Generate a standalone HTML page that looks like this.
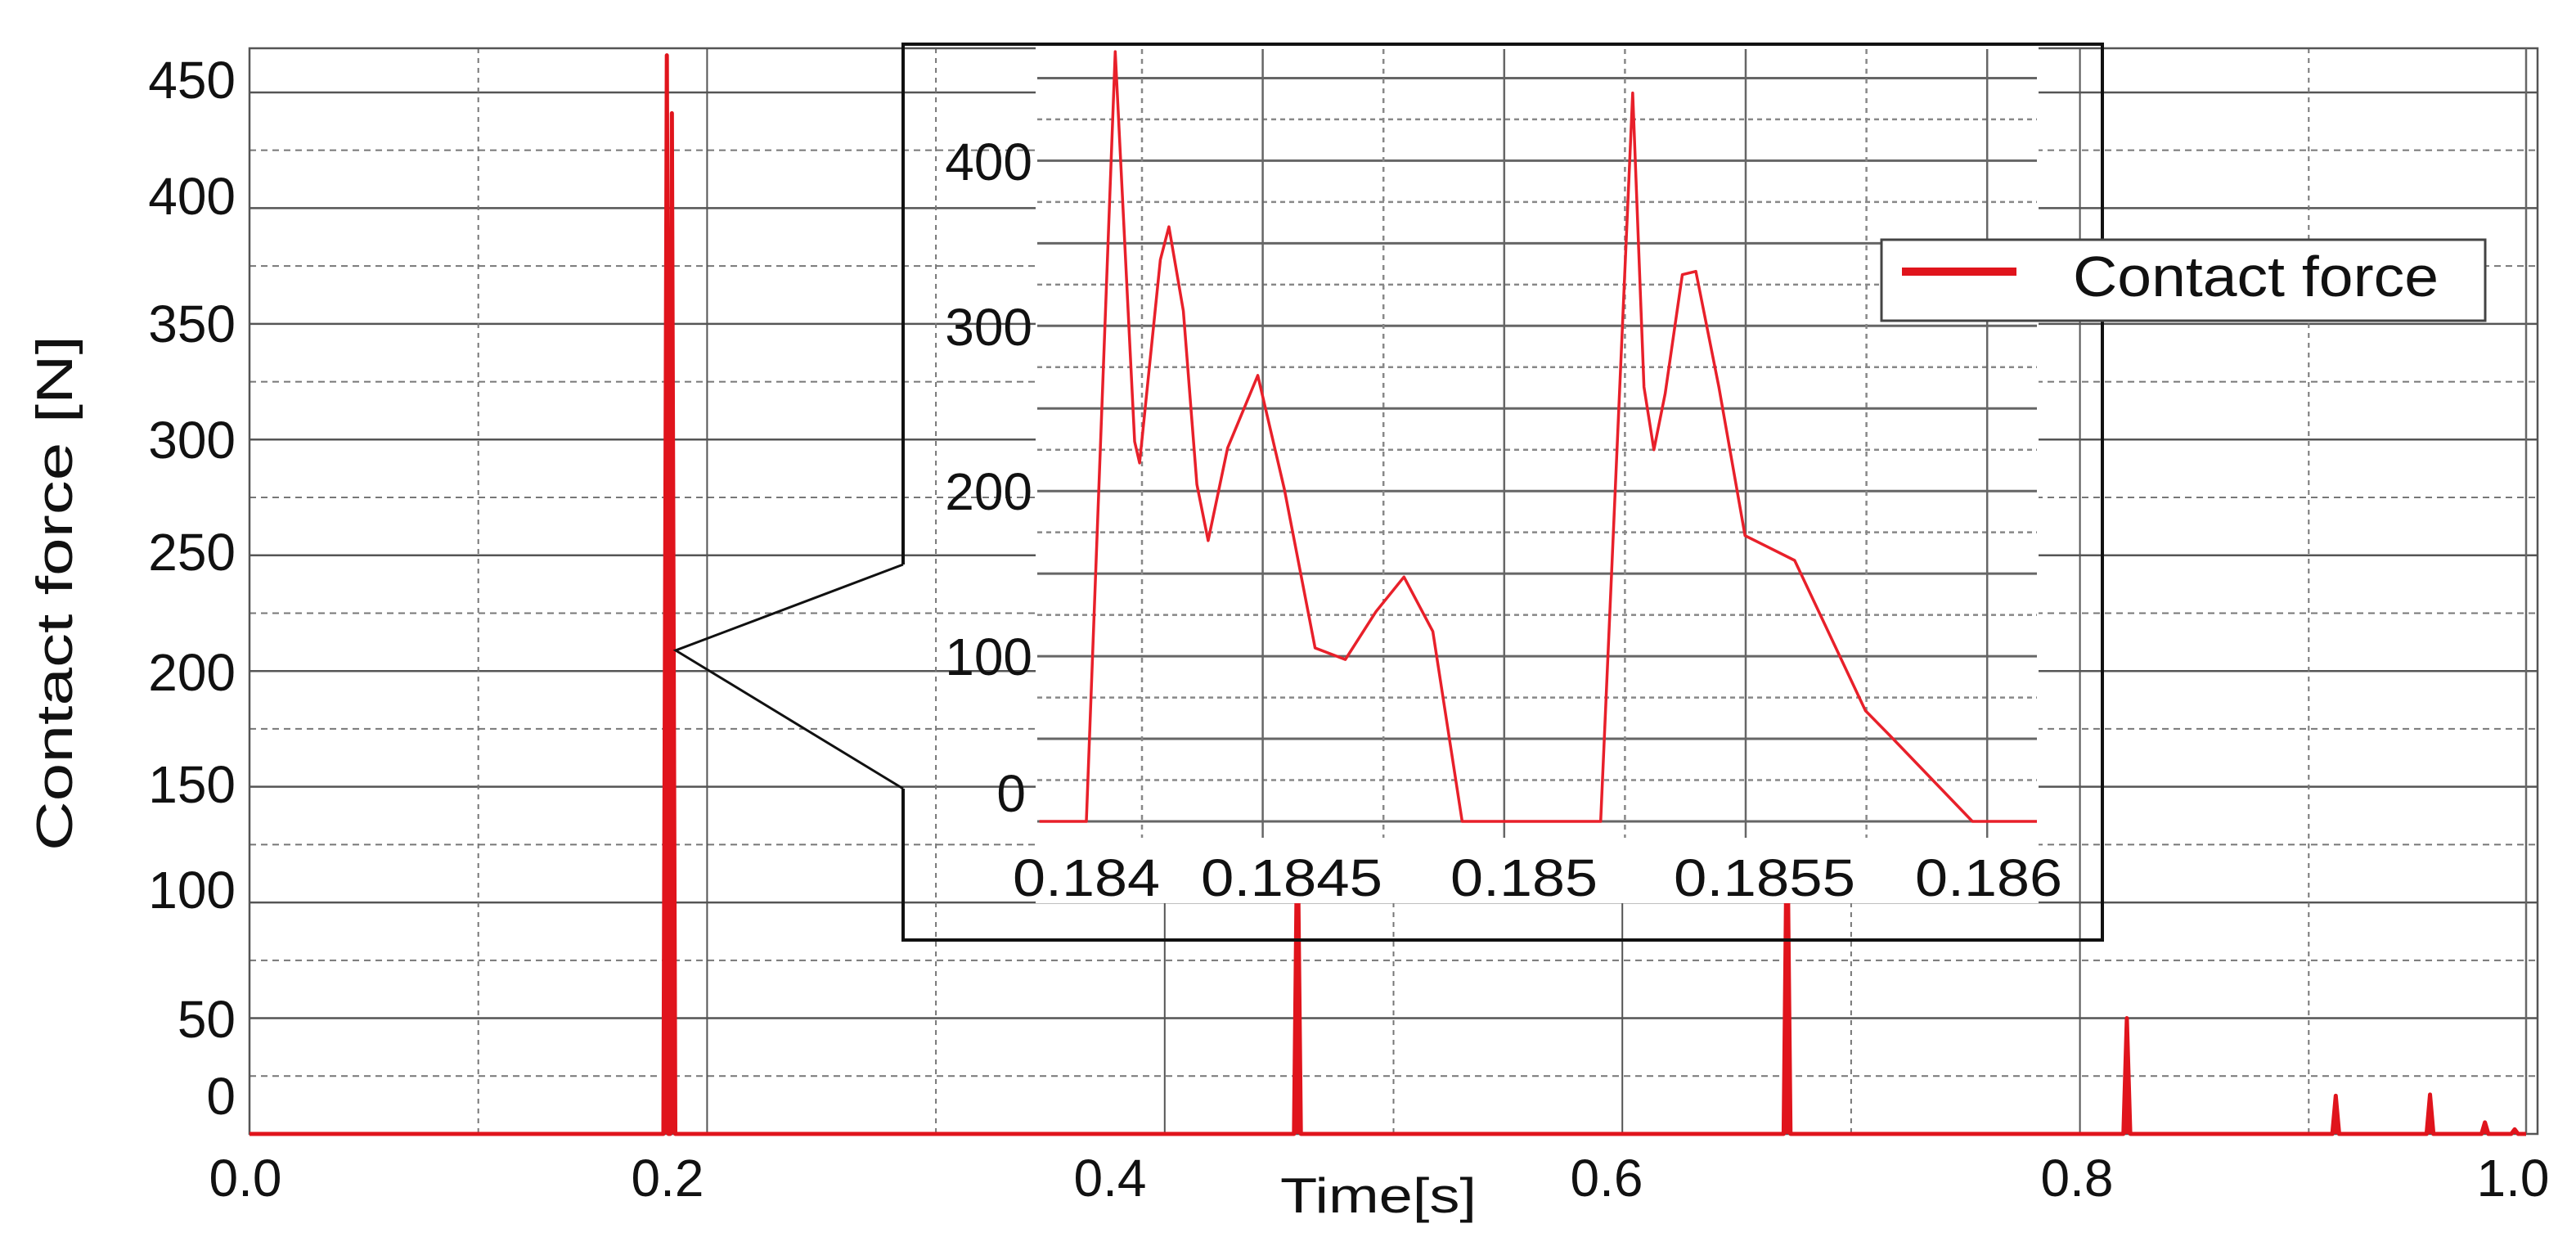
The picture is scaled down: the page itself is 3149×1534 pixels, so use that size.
<!DOCTYPE html>
<html><head><meta charset="utf-8">
<style>
html,body{margin:0;padding:0;background:#fff;}
svg{display:block;font-family:"Liberation Sans",Arial,sans-serif;}
</style></head>
<body>
<svg id="chart" width="3149" height="1534" viewBox="0 0 3149 1534" xmlns="http://www.w3.org/2000/svg">
<g id="main-grid"></g>
<rect x="305" y="59" width="2797" height="1327" fill="none" stroke="#555" stroke-width="2.5"/>
<line x1="3088" y1="59" x2="3088" y2="1386" stroke="#666" stroke-width="2.5"/>
<g id="main-series"></g>
<g id="main-yticks" font-size="64" text-anchor="end" fill="#111">
<text x="288" y="120">450</text>
<text x="288" y="262">400</text>
<text x="288" y="418">350</text>
<text x="288" y="560">300</text>
<text x="288" y="697">250</text>
<text x="288" y="844">200</text>
<text x="288" y="981">150</text>
<text x="288" y="1110">100</text>
<text x="288" y="1268">50</text>
<text x="288" y="1362">0</text>
</g>
<g id="main-xticks" font-size="64" text-anchor="middle" fill="#111">
<text x="300" y="1462">0.0</text>
<text x="816" y="1462">0.2</text>
<text x="1357" y="1462">0.4</text>
<text x="1964" y="1462">0.6</text>
<text x="2539" y="1462">0.8</text>
<text x="3072" y="1462">1.0</text>
</g>
<text x="1685" y="1482" font-size="60" text-anchor="middle" fill="#111" textLength="240" lengthAdjust="spacingAndGlyphs">Time[s]</text>
<text transform="translate(88,725) rotate(-90)" font-size="62" text-anchor="middle" fill="#111" textLength="630" lengthAdjust="spacingAndGlyphs">Contact force [N]</text>

<!-- inset -->
<rect x="1266" y="56" width="1226" height="1048" fill="#fff"/>
<g id="inset-grid"></g>
<g id="inset-series"></g>
<g font-size="64" text-anchor="end" fill="#111">
<text x="1262" y="220">400</text>
<text x="1262" y="422">300</text>
<text x="1262" y="623">200</text>
<text x="1262" y="825">100</text>
<text x="1254" y="992">0</text>
</g>
<g font-size="64" text-anchor="middle" fill="#111">
<text x="1328" y="1095" textLength="180" lengthAdjust="spacingAndGlyphs">0.184</text>
<text x="1579" y="1095" textLength="222" lengthAdjust="spacingAndGlyphs">0.1845</text>
<text x="1863" y="1095" textLength="180" lengthAdjust="spacingAndGlyphs">0.185</text>
<text x="2157" y="1095" textLength="222" lengthAdjust="spacingAndGlyphs">0.1855</text>
<text x="2431" y="1095" textLength="180" lengthAdjust="spacingAndGlyphs">0.186</text>
</g>
<path d="M1104,690 L1104,54 L2570,54 L2570,1149 L1104,1149 L1104,964" fill="none" stroke="#111" stroke-width="4"/>
<path d="M1104,690 L826,795 L1104,964" fill="none" stroke="#111" stroke-width="3"/>

<!-- legend -->
<g>
<rect x="2300" y="293" width="738" height="99" fill="#fff" stroke="#444" stroke-width="3"/>
<line x1="2325" y1="332" x2="2465" y2="332" stroke="#e0141c" stroke-width="10"/>
<text x="2534" y="362" font-size="70" fill="#111" textLength="447" lengthAdjust="spacingAndGlyphs">Contact force</text>
</g>
</svg>
<script>
// main chart data
const mainSpikeTimes = [0.1824, 0.1846, 0.458, 0.672, 0.8205, 0.9118, 0.953, 0.977, 0.990];
const mainSpikePeaks = [466, 441, 140, 145, 50, 16.5, 17, 5, 2];
// inset data
const insetTimes = [0.183896,0.184000,0.184064,0.184107,0.184118,0.184164,0.184183,0.184215,0.184245,0.184270,0.184313,0.184380,0.184439,0.184507,0.184574,0.184642,0.184704,0.184768,0.184833,0.185140,0.185211,0.185236,0.185258,0.185283,0.185321,0.185351,0.185402,0.185460,0.185570,0.185727,0.185781,0.185964,0.186107];
const insetForces = [0,0,466,230,217,340,360,309,204,170,226,270,201,105,98,127,148,115,0,0,441,263,225,259,331,333,263,173,158,67,52,0,0];

const NS='http://www.w3.org/2000/svg';
function mk(tag, attrs, parent){const e=document.createElementNS(NS,tag);for(const k in attrs)e.setAttribute(k,attrs[k]);parent.appendChild(e);return e;}
const X=t=>305+t*2797, Y=v=>1386-v*2.829;
const IX=t=>1328+(t-0.184)/0.002*1103, IY=v=>1004-v*2.019;

// main grid
const mg=document.getElementById('main-grid');
for(let i=1;i<=18;i++){
  const v=i*25; const solid=i%2===0;
  const l=mk('line',{x1:305,x2:3102,y1:Y(v),y2:Y(v),stroke:solid?'#555':'#777','stroke-width':solid?2.5:2,'stroke-dasharray':solid?'none':'8 6'},mg);
  
  
}
for(let i=1;i<10;i++){
  const solid=i%2===0;
  const l=mk('line',{x1:X(i/10),x2:X(i/10),y1:59,y2:1386,stroke:solid?'#555':'#777','stroke-width':2,'stroke-dasharray':solid?'none':'6 6'},mg);
  
  
}
// main series
const ms=document.getElementById('main-series');
let d='M'+X(0)+','+Y(0);
mainSpikeTimes.forEach((t,i)=>{d+=' L'+X(t-0.0015)+','+Y(0)+' L'+X(t)+','+Y(mainSpikePeaks[i])+' L'+X(t+0.0015)+','+Y(0);});
d+=' L3088,'+Y(0);
const mp=mk('path',{d:d,fill:'#e0141c',stroke:'#e0141c','stroke-width':5,'stroke-linejoin':'round'},ms);



// inset grid
const ig=document.getElementById('inset-grid');
for(let i=-1;i<=19;i++){
  const v=i*25; const solid=i%2===0;
  const y=IY(v); if(y<60||y>1024)continue;
  const l=mk('line',{x1:1268,x2:2490,y1:y,y2:y,stroke:solid?'#666':'#888','stroke-width':solid?3:2.5,'stroke-dasharray':solid?'none':'6 5'},ig);
  
  
}
for(let i=0;i<8;i++){
  const x=1396+i*147.6; const solid=(i%2===1);
  const l=mk('line',{x1:x,x2:x,y1:60,y2:1024,stroke:solid?'#666':'#888','stroke-width':2.5,'stroke-dasharray':solid?'none':'6 6'},ig);
  
  
}
// inset series
const is=document.getElementById('inset-series');
const pts=insetTimes.map((t,i)=>IX(t)+','+IY(insetForces[i])).join(' ');
const ip=mk('polyline',{points:pts,fill:'none',stroke:'#e8202a','stroke-width':3.5,'stroke-linejoin':'round'},is);


</script>
</body></html>
